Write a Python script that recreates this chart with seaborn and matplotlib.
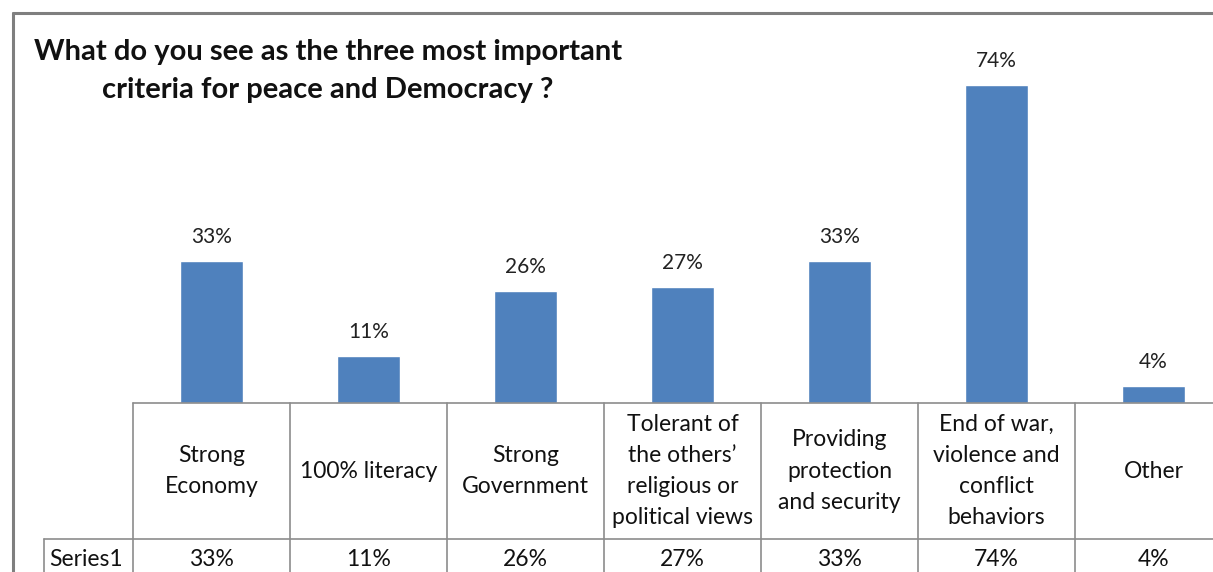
import matplotlib
matplotlib.use("Agg")
import matplotlib.pyplot as plt
import matplotlib.transforms as mtrans
from matplotlib.lines import Line2D
import seaborn as sns
import pandas as pd

categories = ["Strong\nEconomy", "100% literacy", "Strong\nGovernment",
              "Tolerant of\nthe others’\nreligious or\npolitical views",
              "Providing\nprotection\nand security",
              "End of war,\nviolence and\nconflict\nbehaviors", "Other"]
values = [33, 11, 26, 27, 33, 74, 4]
value_labels = ["33%", "11%", "26%", "27%", "33%", "74%", "4%"]
series_name = "Series1"
title = "What do you see as the three most important\ncriteria for peace and Democracy ?"

sns.set_theme(style="white")
plt.rcParams['font.family'] = ['Lato', 'DejaVu Sans']

W, H = 1213, 572
fig = plt.figure(figsize=(W / 100, H / 100), dpi=100)

def fx(px):
    return px / W

def fy(py):
    return 1 - py / H

col_w = 157.0
left_px, base_px, top_px = 133, 403, 13
ppu = 4.3  # pixels per percent
ax = fig.add_axes([fx(left_px), fy(base_px), fx(W - left_px), (base_px - top_px) / H])
df = pd.DataFrame({"cat": categories, "val": values})
sns.barplot(data=df, x="cat", y="val", color="#4F81BD", saturation=1, width=0.40, ax=ax)
ax.set_xlim(-0.5, -0.5 + (W - left_px) / col_w)
ax.set_ylim(0, (base_px - top_px) / ppu)
ax.set_axis_off()
for i, (v, lab) in enumerate(zip(values, value_labels)):
    ax.annotate(lab, (i, v), xytext=(0, 10), textcoords="offset points",
                ha="center", va="bottom", fontsize=15, color="#222222")

# table text
trans = mtrans.blended_transform_factory(ax.transData, fig.transFigure)
for i, (c, lab) in enumerate(zip(categories, value_labels)):
    ax.text(i, fy(471), c, transform=trans, ha="center", va="center",
            fontsize=16.5, color="#111111", linespacing=1.6, clip_on=False)
    ax.text(i, fy(559), lab, transform=trans, ha="center", va="center",
            fontsize=16.5, color="#111111", clip_on=False)
fig.text(fx(49), fy(559), series_name, ha="left", va="center", fontsize=16.5, color="#111111")

gc = "#8c8c8c"
def line(x0, y0, x1, y1, lw=1.2, c=gc):
    fig.add_artist(Line2D([fx(x0), fx(x1)], [fy(y0), fy(y1)], color=c, lw=lw,
                          transform=fig.transFigure))

line(left_px, base_px, W, base_px)
line(44, 539, W, 539)
line(44, 539, 44, H)
for k in range(7):
    xk = left_px + k * col_w
    line(xk, base_px, xk, H)

# chart border
line(13, 13, W + 5, 13, lw=2.2, c="#7f7f7f")
line(13, 13, 13, H + 5, lw=2.2, c="#7f7f7f")

fig.text(fx(328), fy(71), title, ha="center", va="center", fontsize=21,
         fontweight="bold", color="#111111", linespacing=1.58)

fig.savefig("out.png", dpi=100)
